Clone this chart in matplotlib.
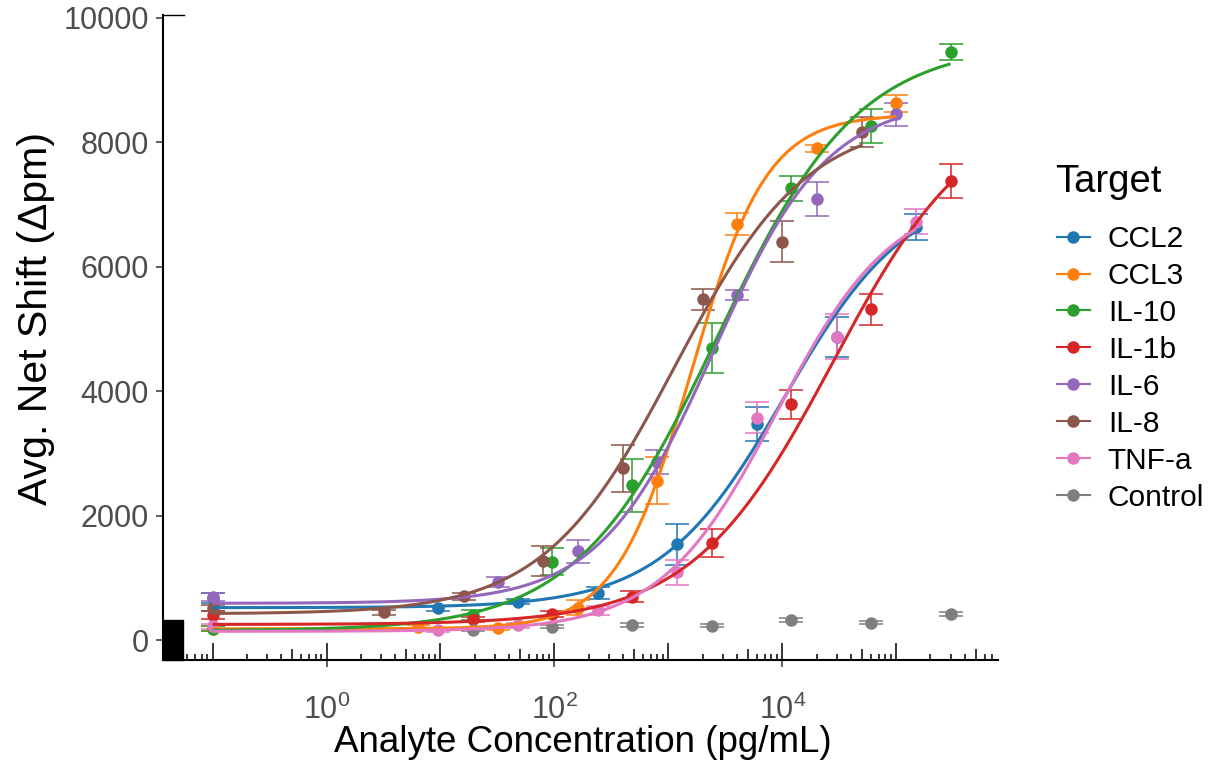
import numpy as np
import matplotlib.pyplot as plt
from matplotlib.lines import Line2D
from matplotlib.patches import Rectangle

plt.rcParams['font.family'] = ['Liberation Sans', 'DejaVu Sans']
plt.rcParams['mathtext.fontset'] = 'custom'
plt.rcParams['mathtext.rm'] = 'Liberation Sans'
plt.rcParams['mathtext.it'] = 'Liberation Sans:italic'

targets = ['CCL2', 'CCL3', 'IL-10', 'IL-1b', 'IL-6', 'IL-8', 'TNF-a', 'Control']
colors = ['#1f77b4', '#ff7f0e', '#2ca02c', '#d62728', '#9467bd', '#8c564b', '#e377c2', '#7f7f7f']

# concentrations in pg/mL (blank wells plotted at 0.1), mean shift and sd
conc_ccl2 = [0.1, 9.6, 48, 240, 1200, 6000, 30000, 150000]
shift_ccl2 = [680, 510, 615, 761, 1543, 3467, 4870, 6645]
err_ccl2 = [80, 40, 40, 95, 330, 275, 320, 210]

conc_ccl3 = [0.1, 6.4, 32, 160, 800, 4000, 20000, 100000]
shift_ccl3 = [180, 214, 188, 522, 2561, 6690, 7906, 8630]
err_ccl3 = [40, 30, 30, 120, 380, 180, 55, 135]

conc_il10 = [0.1, 19.2, 96, 480, 2400, 12000, 60000, 300000]
shift_il10 = [180, 402, 1259, 2487, 4690, 7263, 8265, 9450]
err_il10 = [40, 80, 215, 430, 400, 200, 270, 130]

conc_il1b = [0.1, 19.2, 96, 480, 2400, 12000, 60000, 300000]
shift_il1b = [402, 333, 420, 697, 1554, 3789, 5317, 7380]
err_il1b = [60, 40, 50, 85, 225, 230, 250, 275]

conc_il6 = [0.1, 32, 160, 800, 4000, 20000, 100000]
shift_il6 = [690, 930, 1425, 2867, 5547, 7086, 8450]
err_il6 = [70, 80, 180, 190, 75, 270, 190]

conc_il8 = [0.1, 3.2, 16, 80, 400, 2000, 10000, 50000]
shift_il8 = [515, 450, 700, 1270, 2760, 5478, 6405, 8173]
err_il8 = [50, 40, 50, 240, 375, 170, 335, 240]

conc_tnfa = [0.1, 9.6, 48, 240, 1200, 6000, 30000, 150000]
shift_tnfa = [225, 161, 241, 475, 1088, 3574, 4877, 6726]
err_tnfa = [40, 30, 40, 72, 205, 245, 365, 200]

conc_ctrl = [19.2, 96, 480, 2400, 12000, 60000, 300000]
shift_ctrl = [161, 214, 241, 230, 322, 279, 418]
err_ctrl = [20, 25, 25, 25, 25, 25, 30]

# four-parameter logistic fits: bottom, top, EC50, hill
fit_bottom = [520, 180, 150, 250, 590, 420, 140]
fit_top = [7300, 8450, 9600, 8700, 8700, 8400, 7200]
fit_ec50 = [10500, 1590, 2700, 28000, 2500, 1150, 9000]
fit_hill = [0.80, 1.31, 0.70, 0.70, 0.867, 0.75, 0.85]

concs = [conc_ccl2, conc_ccl3, conc_il10, conc_il1b, conc_il6, conc_il8, conc_tnfa, conc_ctrl]
shifts = [shift_ccl2, shift_ccl3, shift_il10, shift_il1b, shift_il6, shift_il8, shift_tnfa, shift_ctrl]
errs = [err_ccl2, err_ccl3, err_il10, err_il1b, err_il6, err_il8, err_tnfa, err_ctrl]

fig = plt.figure(figsize=(12.13, 7.65), dpi=100)
ax = fig.add_axes([163 / 1213, 1 - 660 / 765, 835 / 1213, 645 / 765])

for i, name in enumerate(targets):
    ax.errorbar(concs[i], shifts[i], yerr=errs[i], fmt='none', ecolor=colors[i],
                elinewidth=1.1, capsize=8.5, capthick=1.1, zorder=2)
    ax.plot(concs[i], shifts[i], 'o', ms=8, color=colors[i], zorder=3)

for i in range(len(fit_top)):
    xs = np.logspace(np.log10(concs[i][0]), np.log10(concs[i][-1]), 300)
    ys = fit_bottom[i] + (fit_top[i] - fit_bottom[i]) / (1 + (fit_ec50[i] / xs) ** fit_hill[i])
    ax.plot(xs, ys, color=colors[i], lw=2.2, zorder=4, solid_capstyle='butt')

ax.set_xscale('log')
ax.set_xlim(10 ** -1.436, 10 ** 5.894)
ax.set_ylim(-321, 10048)

ax.set_xticks([1, 100, 10000])
ax.set_xticklabels(['$10^0$', '$10^2$', '$10^4$'])
ax.xaxis.set_minor_locator(plt.NullLocator())
ax.set_yticks([0, 2000, 4000, 6000, 8000, 10000])
ax.tick_params(axis='both', labelsize=22, labelcolor='#4D4D4D', length=5,
               width=1.1, color='#333333', pad=5)
ax.tick_params(axis='x', pad=20)

for side in ['top', 'right']:
    ax.spines[side].set_visible(False)
for side in ['left', 'bottom']:
    ax.spines[side].set_linewidth(1.5)
    ax.spines[side].set_color('black')

# log ticks along the bottom, inside the panel
xt = ax.get_xaxis_transform()
for k in range(-2, 6):
    for m in range(1, 10):
        v = m * 10.0 ** k
        if v < 10 ** -1.436 or v > 10 ** 5.894:
            continue
        h = 0.0264 if m == 1 else (0.017 if m == 5 else 0.0093)
        ax.plot([v, v], [0, h], transform=xt, color='black', lw=1.1,
                solid_capstyle='butt', clip_on=False)

# left side marks
ax.add_patch(Rectangle((0, 0), 20 / 835, 40 / 645, transform=ax.transAxes,
                       color='black', clip_on=False, zorder=5))
ax.plot([0, 21 / 835], [1, 1], transform=ax.transAxes, color='black', lw=1,
        clip_on=False)

fig.text(583 / 1213, 1 - 742 / 765, 'Analyte Concentration (pg/mL)', fontsize=26.5,
         ha='center', va='center')
fig.text(36 / 1213, 1 - 318 / 765, 'Avg. Net Shift (\u0394pm)', fontsize=29.5,
         ha='center', va='center', rotation=90)

fig.text(1055 / 1213, 1 - 182 / 765, 'Target', fontsize=27.5, ha='left', va='center')
handles = [Line2D([], [], color=c, marker='o', ms=8, lw=1.5) for c in colors]
leg = fig.legend(handles, targets, loc='upper left', bbox_to_anchor=(1057 / 1213, 1 - 225 / 765),
                 frameon=False, fontsize=21.5, handlelength=1.1, handletextpad=0.6,
                 labelspacing=0.3, borderpad=0, borderaxespad=0)

fig.savefig('out.png', dpi=100)
